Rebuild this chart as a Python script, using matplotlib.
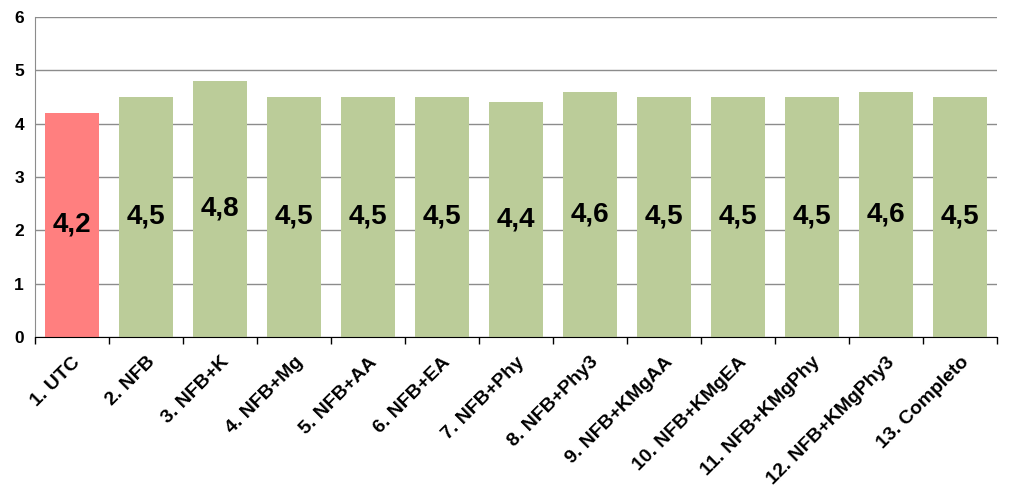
import matplotlib
matplotlib.use("Agg")
import matplotlib.pyplot as plt
import numpy as np

categories = ["1. UTC", "2. NFB", "3. NFB+K", "4. NFB+Mg", "5. NFB+AA", "6. NFB+EA",
              "7. NFB+Phy", "8. NFB+Phy3", "9. NFB+KMgAA", "10. NFB+KMgEA",
              "11. NFB+KMgPhy", "12. NFB+KMgPhy3", "13. Completo"]
values = [4.2, 4.5, 4.8, 4.5, 4.5, 4.5, 4.4, 4.6, 4.5, 4.5, 4.5, 4.6, 4.5]
labels = ["4,2", "4,5", "4,8", "4,5", "4,5", "4,5", "4,4", "4,6", "4,5", "4,5", "4,5", "4,6", "4,5"]
yticks = [0, 1, 2, 3, 4, 5, 6]

plt.rcParams['font.family'] = ['Liberation Sans', 'DejaVu Sans']

fig = plt.figure(figsize=(10.12, 4.88), dpi=100)
ax = fig.add_axes([35/1012, 1 - 337/488, (997-35)/1012, (337-17)/488])

x = np.arange(len(categories))
colors = ['#FF7F7F'] + ['#BBCC99'] * (len(categories) - 1)
ax.bar(x, values, width=0.73, color=colors, zorder=3)

for xi, v, lab in zip(x, values, labels):
    ax.text(xi, v / 2, lab, ha='center', va='center', fontsize=20,
            fontweight='bold', color='black', zorder=4)

ax.set_xlim(-0.5, len(categories) - 0.5)
ax.set_ylim(0, 6)
ax.set_yticks(yticks)
ax.set_yticklabels([str(t) for t in yticks], fontsize=12.5, fontweight='bold')
ax.tick_params(axis='y', length=0, pad=8)
ax.yaxis.grid(True, color='#8C8C8C', linewidth=1, zorder=0)

ax.set_xticks(x)
ax.set_xticklabels(categories, rotation=45, ha='right', rotation_mode='anchor',
                   fontsize=14, fontweight='bold')
ax.tick_params(axis='x', which='major', length=0, pad=12)
ax.set_xticks(np.arange(-0.5, len(categories), 1), minor=True)
ax.tick_params(axis='x', which='minor', length=5, width=1, color='black', direction='out')

for s in ['top', 'right']:
    ax.spines[s].set_visible(False)
ax.spines['left'].set_color('#8C8C8C')
ax.spines['bottom'].set_color('black')
ax.spines['bottom'].set_zorder(5)

fig.savefig("out.png", dpi=100)
